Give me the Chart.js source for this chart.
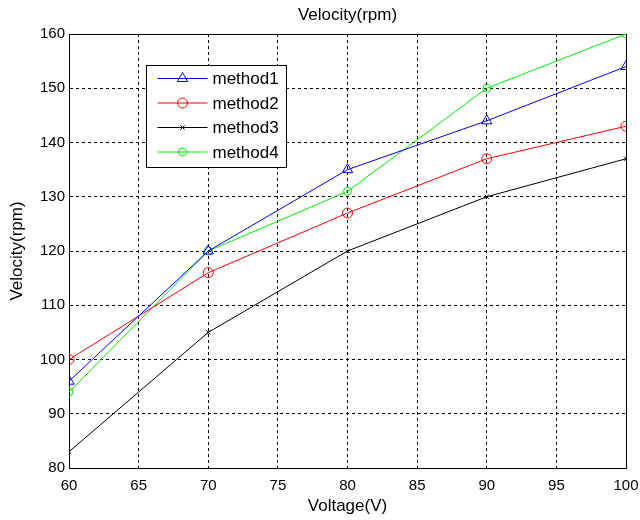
<!DOCTYPE html>
<html>
<head>
<meta charset="utf-8">
<script src="https://cdn.jsdelivr.net/npm/chart.js@4.4.2/dist/chart.umd.min.js"></script>
<style>
  html, body { margin: 0; padding: 0; background: #fff; }
  #wrap { width: 640px; height: 520px; }
</style>
</head>
<body>
<div id="wrap"><canvas id="velocityChart" width="640" height="520"></canvas></div>
<script>
const voltages = [60, 70, 80, 90, 100];
const method1 = [96, 120, 135, 144, 154];
const method2 = [100, 116, 127, 137, 143];
const method3 = [83, 105, 120, 130, 137];
const method4 = [94, 120, 131, 150, 160];
const seriesNames = ['method1', 'method2', 'method3', 'method4'];

const FONT = '"Liberation Sans", Arial, sans-serif';

const toPoints = values => values.map((v, i) => ({ x: voltages[i], y: v }));

// white page behind the plot
const whiteBg = {
  id: 'whiteBg',
  beforeDraw(chart) {
    const { ctx } = chart;
    ctx.save();
    ctx.fillStyle = '#fff';
    ctx.fillRect(0, 0, chart.width, chart.height);
    ctx.restore();
  }
};

// matlab style full box around the axes
const axesBox = {
  id: 'axesBox',
  beforeDatasetsDraw(chart) {
    const { ctx, chartArea: a } = chart;
    ctx.save();
    ctx.strokeStyle = '#000';
    ctx.lineWidth = 1;
    ctx.setLineDash([]);
    ctx.strokeRect(Math.round(a.left) + 0.5, Math.round(a.top) + 0.5,
      Math.round(a.right - a.left), Math.round(a.bottom - a.top));
    ctx.restore();
  }
};

// legend box inside the plot, upper left
const boxLegend = {
  id: 'boxLegend',
  afterDraw(chart) {
    const { ctx, chartArea: a } = chart;
    const left = Math.round(a.left) + 77.5;
    const top = Math.round(a.top) + 31.5;
    const w = 140, rowH = 24.5, h = 102;
    ctx.save();
    ctx.fillStyle = '#fff';
    ctx.fillRect(left, top, w, h);
    ctx.strokeStyle = '#000';
    ctx.lineWidth = 1;
    ctx.setLineDash([]);
    ctx.strokeRect(left, top, w, h);
    ctx.font = '17px ' + FONT;
    ctx.textBaseline = 'middle';
    chart.data.datasets.forEach((ds, i) => {
      const y = top + 13 + i * rowH;
      ctx.strokeStyle = ds.borderColor;
      ctx.lineWidth = 1;
      ctx.beginPath();
      ctx.moveTo(left + 11, y);
      ctx.lineTo(left + 61, y);
      ctx.stroke();
      ctx.fillStyle = 'rgba(0,0,0,0)';
      Chart.helpers.drawPoint(ctx, {
        pointStyle: ds.pointStyle,
        radius: ds.pointRadius,
        borderWidth: 1
      }, left + 36, y);
      ctx.fillStyle = '#000';
      ctx.fillText(ds.label, left + 66, y + 1);
    });
    ctx.restore();
  }
};

const makeSet = (label, values, color, style, radius) => ({
  label: label,
  data: toPoints(values),
  borderColor: color,
  backgroundColor: 'rgba(0,0,0,0)',
  borderWidth: 1,
  pointStyle: style,
  pointRadius: radius,
  pointBorderWidth: 1,
  pointBorderColor: color,
  pointBackgroundColor: 'rgba(0,0,0,0)',
  tension: 0
});

const chart = new Chart(document.getElementById('velocityChart'), {
  type: 'line',
  data: {
    datasets: [
      makeSet(seriesNames[0], method1, '#0000ff', 'triangle', 6),
      makeSet(seriesNames[1], method2, '#ff0000', 'circle', 5),
      makeSet(seriesNames[2], method3, '#000000', 'crossRot', 3),
      makeSet(seriesNames[3], method4, '#00ee00', 'circle', 4)
    ]
  },
  options: {
    responsive: false,
    animation: false,
    layout: { padding: { top: 0, right: 14, bottom: 0, left: 0 } },
    plugins: {
      legend: { display: false },
      tooltip: { enabled: false },
      title: {
        display: true,
        fullSize: false,
        text: 'Velocity(rpm)',
        color: '#000',
        font: { family: FONT, size: 17, weight: 'normal' },
        padding: { top: 5, bottom: 8.6 }
      }
    },
    scales: {
      x: {
        type: 'linear',
        min: 60,
        max: 100,
        ticks: {
          stepSize: 5,
          color: '#000',
          padding: 9,
          font: { family: FONT, size: 15 }
        },
        grid: { color: '#000', lineWidth: 1, drawTicks: false },
        border: { display: true, color: '#000', width: 1, dash: [3, 3] },
        title: {
          display: true,
          text: 'Voltage(V)',
          color: '#000',
          font: { family: FONT, size: 17 },
          padding: { top: 0, bottom: 3 }
        },
        afterFit(scale) {
          scale.height = 52;
          scale.paddingLeft = 0;
          scale.paddingRight = 0;
        }
      },
      y: {
        min: 80,
        max: 160,
        ticks: {
          stepSize: 10,
          color: '#000',
          padding: 4,
          font: { family: FONT, size: 15 }
        },
        grid: { color: '#000', lineWidth: 1, drawTicks: false },
        border: { display: true, color: '#000', width: 1, dash: [3, 3] },
        title: {
          display: true,
          text: 'Velocity(rpm)',
          color: '#000',
          font: { family: FONT, size: 17 },
          padding: { top: 7, bottom: 4 }
        },
        afterFit(scale) { scale.width = 69; }
      }
    }
  },
  plugins: [whiteBg, axesBox, boxLegend]
});
</script>
</body>
</html>
